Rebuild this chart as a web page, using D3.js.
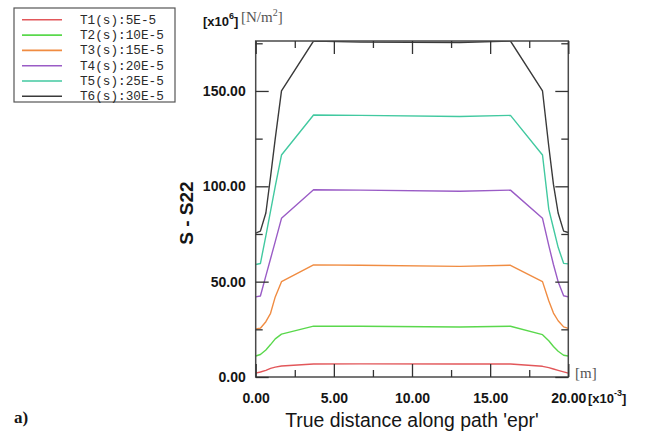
<!DOCTYPE html>
<html>
<head>
<meta charset="utf-8">
<script src="https://cdn.jsdelivr.net/npm/d3@7/dist/d3.min.js"></script>
<style>
  html, body { margin: 0; padding: 0; background: #fff; }
  svg { display: block; }
</style>
</head>
<body>
<svg id="chart" width="649" height="437"></svg>
<script>
// Path positions along 'epr' (x10^-3 m) shared by every time step
const distance = [0, 0.3, 0.65, 0.95, 1.25, 1.65, 3.7, 6.7, 13.05, 16.3, 18.35, 18.75, 19.05, 19.35, 19.7, 20];

// S22 stress (x10^6 N/m^2) at each time step
const t1 = [2.0, 2.6, 3.5, 4.5, 5.2, 5.8, 6.8, 6.9, 6.8, 6.8, 5.6, 4.9, 4.2, 3.5, 2.7, 2.0];
const t2 = [11.0, 11.8, 14.2, 17.0, 20.0, 22.5, 26.7, 26.6, 26.2, 26.6, 22.2, 19.0, 16.0, 13.5, 11.4, 11.0];
const t3 = [25.2, 25.6, 29.0, 33.4, 42.0, 50.0, 58.8, 58.6, 58.0, 58.6, 50.0, 40.0, 33.5, 29.5, 26.3, 25.5];
const t4 = [42.0, 42.5, 53.0, 62.0, 71.0, 83.2, 98.2, 98.0, 97.4, 98.0, 83.2, 69.0, 59.0, 50.0, 42.6, 42.0];
const t5 = [59.0, 59.5, 74.0, 87.0, 100.0, 116.4, 137.4, 137.2, 136.6, 137.2, 116.4, 88.0, 78.0, 68.0, 59.6, 59.3];
const t6 = [75.5, 76.5, 86.0, 105.0, 125.0, 150.0, 176.2, 175.6, 175.4, 176.2, 150.0, 121.0, 101.0, 86.0, 76.5, 75.8];

const seriesNames = ["T1(s):5E-5", "T2(s):10E-5", "T3(s):15E-5", "T4(s):20E-5", "T5(s):25E-5", "T6(s):30E-5"];
const seriesValues = [t1, t2, t3, t4, t5, t6];
const seriesColors = ["#e2575a", "#5ad84c", "#f08c42", "#9a5cc6", "#42c9a0", "#3a3a3a"];

const xMajorTicks = [0, 5, 10, 15, 20];
const xMinorTicks = [2.5, 7.5, 12.5, 17.5];
const yMajorTicks = [0, 50, 100, 150];
const yMinorTicks = [25, 75, 125, 175];

const svg = d3.select("#chart");
const plot = { left: 255.7, right: 568.3, top: 41, bottom: 377 };

const x = d3.scaleLinear().domain([0, 20]).range([plot.left, plot.right]);
const y = d3.scaleLinear().domain([0, 176.2]).range([plot.bottom, plot.top]);

svg.append("defs").append("clipPath").attr("id", "plotClip")
  .append("rect").attr("x", plot.left).attr("y", plot.top)
  .attr("width", plot.right - plot.left).attr("height", plot.bottom - plot.top);

// Curves
const line = d3.line().x((d, i) => x(distance[i])).y(d => y(d));
const curves = svg.append("g").attr("clip-path", "url(#plotClip)");
seriesValues.forEach((vals, k) => {
  curves.append("path")
    .attr("d", line(vals))
    .attr("fill", "none")
    .attr("stroke", seriesColors[k])
    .attr("stroke-width", 1.4)
    .attr("stroke-linejoin", "round");
});

// Frame
svg.append("rect")
  .attr("x", plot.left).attr("y", plot.top)
  .attr("width", plot.right - plot.left).attr("height", plot.bottom - plot.top)
  .attr("fill", "none").attr("stroke", "#4a4a4a").attr("stroke-width", 1.5);

const tickFont = "'Liberation Sans', Arial, sans-serif";

function styleAxis(g) {
  g.select(".domain").remove();
  g.selectAll(".tick line").attr("stroke", "#333").attr("stroke-width", 1.3);
  g.selectAll(".tick text")
    .attr("font-family", tickFont)
    .attr("font-weight", "bold")
    .attr("font-size", 14)
    .attr("fill", "#151515");
}

// Bottom axis: inward ticks with labels
svg.append("g").attr("transform", `translate(0,${plot.bottom})`)
  .call(d3.axisBottom(x).tickValues(xMajorTicks).tickSize(-13).tickPadding(16)
    .tickFormat(d3.format(".2f")))
  .call(styleAxis);
svg.append("g").attr("transform", `translate(0,${plot.bottom})`)
  .call(d3.axisBottom(x).tickValues(xMinorTicks).tickSize(-7).tickFormat(""))
  .call(styleAxis);

// Top axis: inward ticks only
svg.append("g").attr("transform", `translate(0,${plot.top})`)
  .call(d3.axisTop(x).tickValues(xMajorTicks).tickSize(-13).tickFormat(""))
  .call(styleAxis);
svg.append("g").attr("transform", `translate(0,${plot.top})`)
  .call(d3.axisTop(x).tickValues(xMinorTicks).tickSize(-7).tickFormat(""))
  .call(styleAxis);

// Left axis: inward ticks with labels
svg.append("g").attr("transform", `translate(${plot.left},0)`)
  .call(d3.axisLeft(y).tickValues(yMajorTicks).tickSize(-13).tickPadding(10)
    .tickFormat(d3.format(".2f")))
  .call(styleAxis);
svg.append("g").attr("transform", `translate(${plot.left},0)`)
  .call(d3.axisLeft(y).tickValues(yMinorTicks).tickSize(-7).tickFormat(""))
  .call(styleAxis);

// Right axis: inward ticks only
svg.append("g").attr("transform", `translate(${plot.right},0)`)
  .call(d3.axisRight(y).tickValues(yMajorTicks).tickSize(-13).tickFormat(""))
  .call(styleAxis);
svg.append("g").attr("transform", `translate(${plot.right},0)`)
  .call(d3.axisRight(y).tickValues(yMinorTicks).tickSize(-7).tickFormat(""))
  .call(styleAxis);

// Axis titles
svg.append("text")
  .attr("transform", "translate(193,213) rotate(-90)")
  .attr("text-anchor", "middle")
  .attr("font-family", tickFont).attr("font-weight", "bold").attr("font-size", 19)
  .attr("fill", "#151515")
  .text("S - S22");

svg.append("text")
  .attr("x", 412).attr("y", 426.5)
  .attr("text-anchor", "middle")
  .attr("font-family", tickFont).attr("font-size", 19.4)
  .attr("fill", "#151515")
  .text("True distance along path 'epr'");

// Unit / scale annotations
const yScaleLabel = svg.append("text")
  .attr("x", 203).attr("y", 26)
  .attr("font-family", tickFont).attr("font-weight", "bold").attr("font-size", 13)
  .attr("fill", "#151515");
yScaleLabel.append("tspan").text("[x10");
yScaleLabel.append("tspan").attr("dy", -7).attr("font-size", 9).text("6");
yScaleLabel.append("tspan").attr("dy", 7).text("]");

const yUnit = svg.append("text")
  .attr("x", 241).attr("y", 21.5)
  .attr("font-family", "'Liberation Serif', 'Times New Roman', serif").attr("font-size", 15)
  .attr("fill", "#555");
yUnit.append("tspan").text("[N/m");
yUnit.append("tspan").attr("dy", -6).attr("font-size", 10).text("2");
yUnit.append("tspan").attr("dy", 6).text("]");

svg.append("text")
  .attr("x", 575).attr("y", 378.3)
  .attr("font-family", "'Liberation Serif', 'Times New Roman', serif").attr("font-size", 15)
  .attr("fill", "#555")
  .text("[m]");

const xScaleLabel = svg.append("text")
  .attr("x", 588).attr("y", 402.7)
  .attr("font-family", tickFont).attr("font-weight", "bold").attr("font-size", 13)
  .attr("fill", "#151515");
xScaleLabel.append("tspan").text("[x10");
xScaleLabel.append("tspan").attr("dy", -7).attr("font-size", 9).text("-3");
xScaleLabel.append("tspan").attr("dy", 7).text("]");

// Panel tag
svg.append("text")
  .attr("x", 14).attr("y", 423)
  .attr("font-family", "'Liberation Serif', 'Times New Roman', serif")
  .attr("font-weight", "bold").attr("font-size", 17)
  .attr("fill", "#151515")
  .text("a)");

// Legend
const legend = svg.append("g");
legend.append("rect")
  .attr("x", 14).attr("y", 8).attr("width", 161).attr("height", 94)
  .attr("fill", "#fff").attr("stroke", "#555").attr("stroke-width", 1.2);
seriesNames.forEach((name, k) => {
  const cy = 19.8 + k * 15.3;
  legend.append("line")
    .attr("x1", 22).attr("x2", 62).attr("y1", cy).attr("y2", cy)
    .attr("stroke", seriesColors[k]).attr("stroke-width", 1.6);
  legend.append("text")
    .attr("x", 80).attr("y", cy + 4)
    .attr("font-family", "'Liberation Mono', 'Courier New', monospace")
    .attr("font-size", 12.7)
    .attr("fill", "#2a2a2a")
    .text(name);
});
</script>
</body>
</html>
